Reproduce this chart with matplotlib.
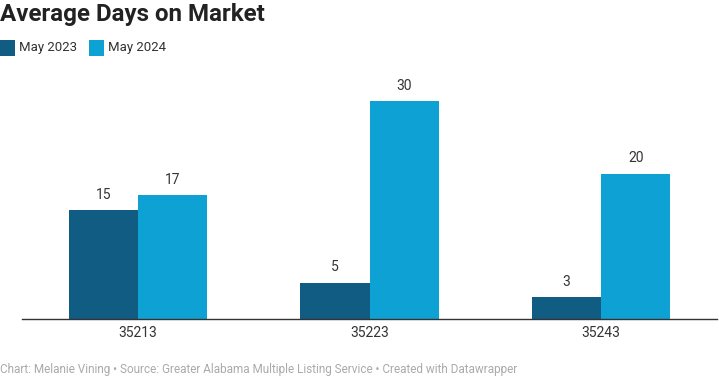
import matplotlib
matplotlib.use("Agg")
import matplotlib.pyplot as plt
import numpy as np
from matplotlib.patches import Rectangle

categories = ["35213", "35223", "35243"]
may_2023 = [15, 5, 3]
may_2024 = [17, 30, 20]
series_names = ["May 2023", "May 2024"]
title = "Average Days on Market"
footer = ("Chart: Melanie Vining \u2022 Source: Greater Alabama Multiple Listing Service "
          "\u2022 Created with Datawrapper")

c_dark = "#115c82"
c_light = "#0ea2d4"

plt.rcParams['font.family'] = ['Roboto', 'DejaVu Sans']

W, H = 719, 380
fig = plt.figure(figsize=(W / 100, H / 100), dpi=100)
ax_left = 22 / W
ax_right = 717 / W
ax_bottom = (H - 319) / H
ymax = 33
px_per_unit = 218 / 30
ax_top = (H - (319 - ymax * px_per_unit)) / H
ax = fig.add_axes([ax_left, ax_bottom, ax_right - ax_left, ax_top - ax_bottom])

x = np.arange(len(categories))
bw = 0.298
b1 = ax.bar(x - bw / 2, may_2023, bw, color=c_dark, linewidth=0)
b2 = ax.bar(x + bw / 2, may_2024, bw, color=c_light, linewidth=0)
for bars, vals in ((b1, may_2023), (b2, may_2024)):
    for r, v in zip(bars, vals):
        ax.annotate(str(v), (r.get_x() + r.get_width() / 2, v), xytext=(0, 6),
                    textcoords="offset points", ha="center", va="bottom",
                    fontsize=10, color="#333333")

ax.set_xlim(-0.5, 2.5)
ax.set_ylim(0, ymax)
ax.set_xticks(x)
ax.set_xticklabels(categories, fontsize=10, color="#333333")
ax.tick_params(axis="x", length=0, pad=5)
ax.set_yticks([])
for s in ("top", "right", "left"):
    ax.spines[s].set_visible(False)
ax.spines["bottom"].set_color("#333333")
ax.spines["bottom"].set_linewidth(1.0)

fig.text(0, 1 - 15 / H, title, fontsize=17.4, fontweight="bold", color="#222222",
         ha="left", va="center")

leg_y = 1 - 56 / H
sq_h = 16 / H
sq_w = 15 / W
fig.patches.append(Rectangle((0, leg_y), sq_w, sq_h, transform=fig.transFigure,
                             color=c_dark, linewidth=0))
fig.text(19 / W, leg_y + sq_h / 2, series_names[0], fontsize=9.5, color="#333333",
         ha="left", va="center")
fig.patches.append(Rectangle((89 / W, leg_y), sq_w, sq_h, transform=fig.transFigure,
                             color=c_light, linewidth=0))
fig.text(108 / W, leg_y + sq_h / 2, series_names[1], fontsize=9.5, color="#333333",
         ha="left", va="center")

fig.text(0, 1 - 370 / H, footer, fontsize=8.5, color="#aaaaaa", ha="left", va="center")

fig.savefig("out.png", dpi=100, facecolor="white")
